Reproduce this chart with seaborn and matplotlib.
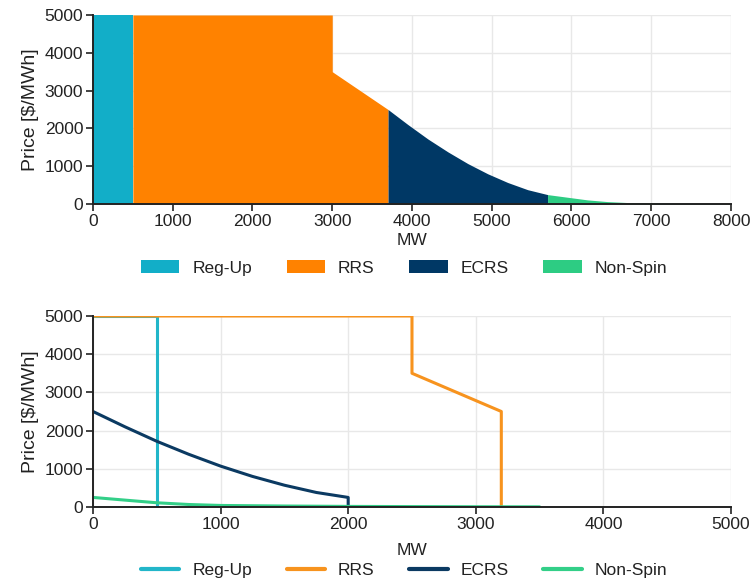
import numpy as np
import pandas as pd
import matplotlib
matplotlib.use("Agg")
import matplotlib.pyplot as plt
from matplotlib.patches import Patch
from matplotlib.lines import Line2D
import seaborn as sns

# ---------------- data ----------------
products = ["Reg-Up", "RRS", "ECRS", "Non-Spin"]
fill_colors = ["#12aec8", "#ff8200", "#003865", "#2dcc83"]
line_colors = ["#22b6c9", "#f7931e", "#0b3a62", "#33cf88"]

regup_mw = [0, 500, 500]
regup_price = [5000, 5000, 0]

rrs_mw = [0, 2500, 2500, 3200, 3200]
rrs_price = [5000, 5000, 3500, 2500, 0]

ecrs_mw = [0, 250, 500, 750, 1000, 1250, 1500, 1750, 2000, 2000]
ecrs_price = [2500, 2100, 1720, 1380, 1070, 800, 570, 380, 250, 0]

nonspin_mw = [0, 250, 500, 750, 1000, 1500, 2000, 2500, 3000, 3500]
nonspin_price = [250, 180, 110, 65, 40, 25, 15, 10, 6, 4]

curves = [(regup_mw, regup_price), (rrs_mw, rrs_price),
          (ecrs_mw, ecrs_price), (nonspin_mw, nonspin_price)]

# ---------------- style ----------------
sns.set_theme(style="whitegrid")
plt.rcParams["font.family"] = ["Liberation Sans", "DejaVu Sans"]
plt.rcParams.update({
    "axes.edgecolor": "#222222",
    "axes.linewidth": 1.4,
    "grid.color": "#e8e8e8",
    "grid.linewidth": 1.0,
    "xtick.bottom": True,
    "ytick.left": True,
    "xtick.major.size": 5,
    "ytick.major.size": 5,
    "xtick.major.width": 1.2,
    "ytick.major.width": 1.2,
    "xtick.color": "#222222",
    "ytick.color": "#222222",
    "text.color": "#222222",
    "axes.labelcolor": "#222222",
})

fig = plt.figure(figsize=(7.54, 5.83), dpi=100)
ax1 = fig.add_axes([0.1233, 0.650, 0.8462, 0.3243])
ax2 = fig.add_axes([0.1233, 0.1304, 0.8462, 0.3276])

tick_fs = 12.5
label_fs = 14

# ---------------- top: stacked supply curve ----------------
offset = 0
for (mw, pr), c in zip(curves, fill_colors):
    x = np.array(mw) + offset
    ax1.fill_between(x, pr, 0, color=c, linewidth=0)
    offset += max(mw)
ax1.set_xlim(0, 8000)
ax1.set_ylim(0, 5000)
ax1.set_xticks(range(0, 8001, 1000))
ax1.set_yticks(range(0, 5001, 1000))

# ---------------- bottom: individual curves ----------------
frames = []
for name, (mw, pr) in zip(products, curves):
    frames.append(pd.DataFrame({"MW": mw, "Price": pr, "Product": name}))
df = pd.concat(frames, ignore_index=True)
sns.lineplot(data=df, x="MW", y="Price", hue="Product", palette=line_colors,
             hue_order=products, sort=False, estimator=None, units="Product",
             linewidth=2.2, ax=ax2, legend=False)
ax2.set_xlim(0, 5000)
ax2.set_ylim(0, 5000)
ax2.set_xticks(range(0, 5001, 1000))
ax2.set_yticks(range(0, 5001, 1000))

for ax in (ax1, ax2):
    sns.despine(ax=ax)
    ax.tick_params(labelsize=tick_fs, pad=2)
    ax.set_ylabel("Price [$/MWh]", fontsize=label_fs, labelpad=4)
    for s in ("left", "bottom"):
        ax.spines[s].set_color("#222222")
        ax.spines[s].set_linewidth(1.4)
    ax.grid(True)
ax1.set_xlabel("MW", fontsize=tick_fs, labelpad=3)
ax2.set_xlabel("MW", fontsize=tick_fs, labelpad=8)

# legends
leg_kw = dict(loc="center", ncol=4, frameon=False, fontsize=tick_fs,
              handlelength=2.2, columnspacing=2.0, handletextpad=0.75)
h1 = [Patch(facecolor=c, edgecolor="none") for c in fill_colors]
fig.legend(h1, products, bbox_to_anchor=(0.536, 1 - 268 / 583),
           handleheight=0.75, **leg_kw)
h2 = [Line2D([], [], color=c, linewidth=3.0) for c in line_colors]
fig.legend(h2, products, bbox_to_anchor=(0.536, 1 - 570 / 583), **leg_kw)

fig.savefig("out.png", dpi=100)
